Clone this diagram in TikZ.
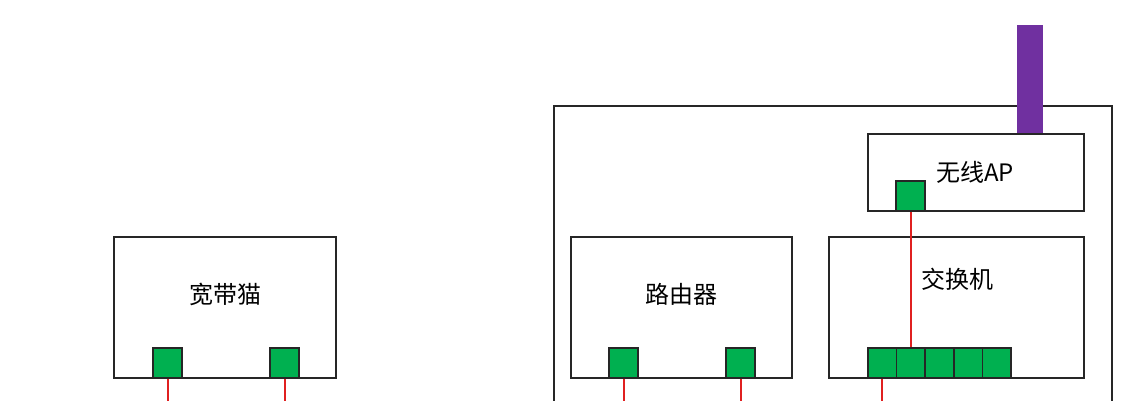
\documentclass[tikz,border=0pt]{standalone}
\usepackage{fontspec}
\newfontfamily\cjk{Noto Sans CJK SC}
\definecolor{portgreen}{HTML}{00B050}
\definecolor{cablered}{HTML}{E02020}
\definecolor{antpurple}{HTML}{7030A0}
\begin{document}
\begin{tikzpicture}[x=0.75pt,y=-0.75pt,
  box/.style={draw=black!85,line width=1.1pt,fill=white},
  port/.style={draw=black!85,line width=1.1pt,fill=portgreen},
  cable/.style={draw=cablered,line width=1.5pt},
  lbl/.style={font=\cjk\fontsize{18pt}{20pt}\selectfont,text=black,inner sep=0pt}]
\useasboundingbox (0,0) rectangle (1144,400);
\clip (0,0) rectangle (1144,400);
% outer cabinet (bottom cut off)
\draw[line width=1.1pt,draw=black!85] (554,410) -- (554,106) -- (1112,106) -- (1112,410);
% antenna
\fill[antpurple] (1017,25) rectangle (1043,134);
% modem
\draw[box] (114,237) rectangle (336,378);
\node[lbl] (modemlbl) at (225,294) {宽带猫};
\node[port,minimum width=29*0.75pt,minimum height=30*0.75pt,inner sep=0pt] (m1) at (167.5,363) {};
\node[port,minimum width=29*0.75pt,minimum height=30*0.75pt,inner sep=0pt] (m2) at (284.5,363) {};
% router
\draw[box] (571,237) rectangle (792,378);
\node[lbl] (routerlbl) at (681,294) {路由器};
\node[port,minimum width=29*0.75pt,minimum height=30*0.75pt,inner sep=0pt] (r1) at (623.5,363) {};
\node[port,minimum width=29*0.75pt,minimum height=30*0.75pt,inner sep=0pt] (r2) at (740.5,363) {};
% switch
\draw[box] (829,237) rectangle (1084,378);
\node[lbl] (switchlbl) at (957,279) {交换机};
\foreach \i in {1,...,5}{
  \node[port,minimum width=28.6*0.75pt,minimum height=30*0.75pt,inner sep=0pt] (s\i) at ({868+14.3+(\i-1)*28.6},363) {};
}
% AP
\draw[box] (868,134) rectangle (1084,211);
\node[lbl] (aplbl) at (975,172) {无线AP};
\node[port,minimum width=29*0.75pt,minimum height=30*0.75pt,inner sep=0pt] (ap) at (910.5,196) {};
% cables
\coordinate (e1) at (167.5,410);
\coordinate (e2) at (284.5,410);
\coordinate (e3) at (623.5,410);
\coordinate (e4) at (740.5,410);
\coordinate (e5) at (882.3,410);
\draw[cable] (m1.south) -- (e1);
\draw[cable] (m2.south) -- (e2);
\draw[cable] (r1.south) -- (e3);
\draw[cable] (r2.south) -- (e4);
\draw[cable] (s1.south) -- (e5);
\draw[cable] (s2.north) -- (s2.north |- ap.south);
\end{tikzpicture}
\end{document}
